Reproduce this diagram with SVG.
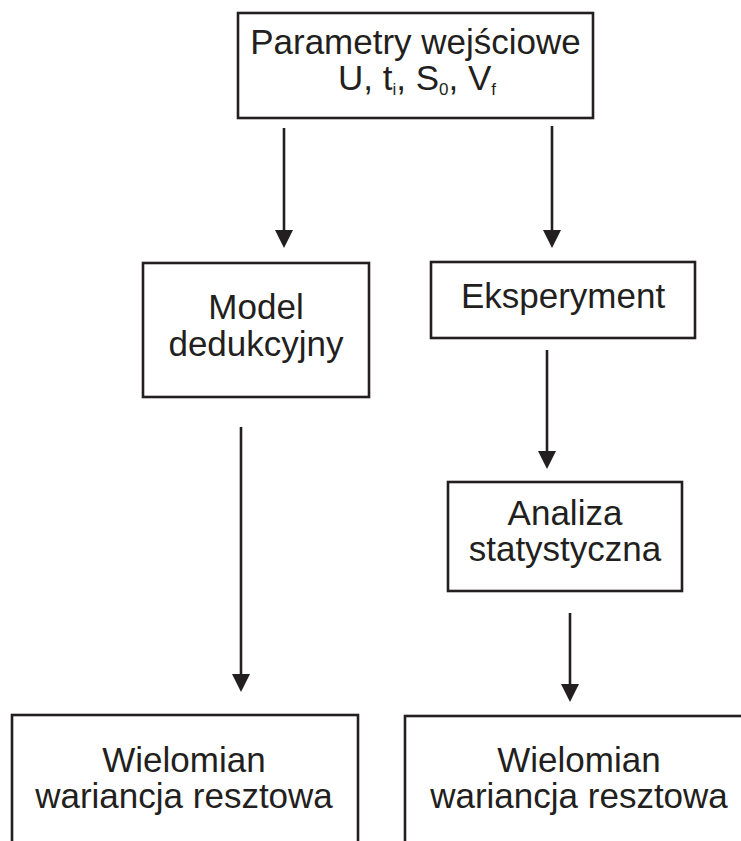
<svg xmlns="http://www.w3.org/2000/svg" width="741" height="841" viewBox="0 0 741 841">
  <defs>
    <style>
      .box { fill: #ffffff; stroke: #231f20; stroke-width: 2.6; }
      .lbl { font-family: "Liberation Sans", Arial, sans-serif; font-size: 35px; fill: #231f20; text-anchor: middle; }
      .sub { font-size: 17px; }
      .wire { stroke: #231f20; stroke-width: 2.6; fill: none; marker-end: url(#head); }
    </style>
    <marker id="head" viewBox="0 0 18 18" refX="10" refY="9" markerWidth="18" markerHeight="18" markerUnits="userSpaceOnUse" orient="auto">
      <path d="M0,0 L18,9 L0,18 Z" fill="#231f20"/>
    </marker>
  </defs>

  <rect width="741" height="841" fill="#ffffff"/>

  <!-- connectors -->
  <g id="connectors">
    <line class="wire" x1="284" y1="128" x2="284" y2="240"/>
    <line class="wire" x1="552" y1="126" x2="552" y2="240"/>
    <line class="wire" x1="547" y1="350" x2="547" y2="461"/>
    <line class="wire" x1="241" y1="427" x2="241" y2="684"/>
    <line class="wire" x1="570" y1="613" x2="570" y2="694"/>
  </g>

  <!-- input parameters -->
  <g id="params">
    <rect class="box" x="238" y="13" width="355" height="105"/>
    <text class="lbl" x="415.5" y="54">Parametry wejściowe</text>
    <text class="lbl" x="417" y="90">U, t<tspan class="sub" dy="5">i</tspan><tspan dy="-5">, S</tspan><tspan class="sub" dy="5">0</tspan><tspan dy="-5">, V</tspan><tspan class="sub" dy="5">f</tspan></text>
  </g>

  <!-- deductive model -->
  <g id="model">
    <rect class="box" x="143" y="263" width="226" height="134"/>
    <text class="lbl" x="256" y="319">Model</text>
    <text class="lbl" x="256" y="356">dedukcyjny</text>
  </g>

  <!-- experiment -->
  <g id="experiment">
    <rect class="box" x="431" y="262" width="264" height="76"/>
    <text class="lbl" x="563" y="308">Eksperyment</text>
  </g>

  <!-- statistical analysis -->
  <g id="analysis">
    <rect class="box" x="448" y="482" width="234" height="109"/>
    <text class="lbl" x="565" y="525">Analiza</text>
    <text class="lbl" x="565" y="561">statystyczna</text>
  </g>

  <!-- polynomial, model branch -->
  <g id="result-model">
    <rect class="box" x="12" y="715" width="346" height="160"/>
    <text class="lbl" x="184" y="772">Wielomian</text>
    <text class="lbl" x="184" y="808">wariancja resztowa</text>
  </g>

  <!-- polynomial, experiment branch -->
  <g id="result-experiment">
    <rect class="box" x="405" y="716" width="350" height="160"/>
    <text class="lbl" x="579" y="772">Wielomian</text>
    <text class="lbl" x="579" y="808">wariancja resztowa</text>
  </g>
</svg>
